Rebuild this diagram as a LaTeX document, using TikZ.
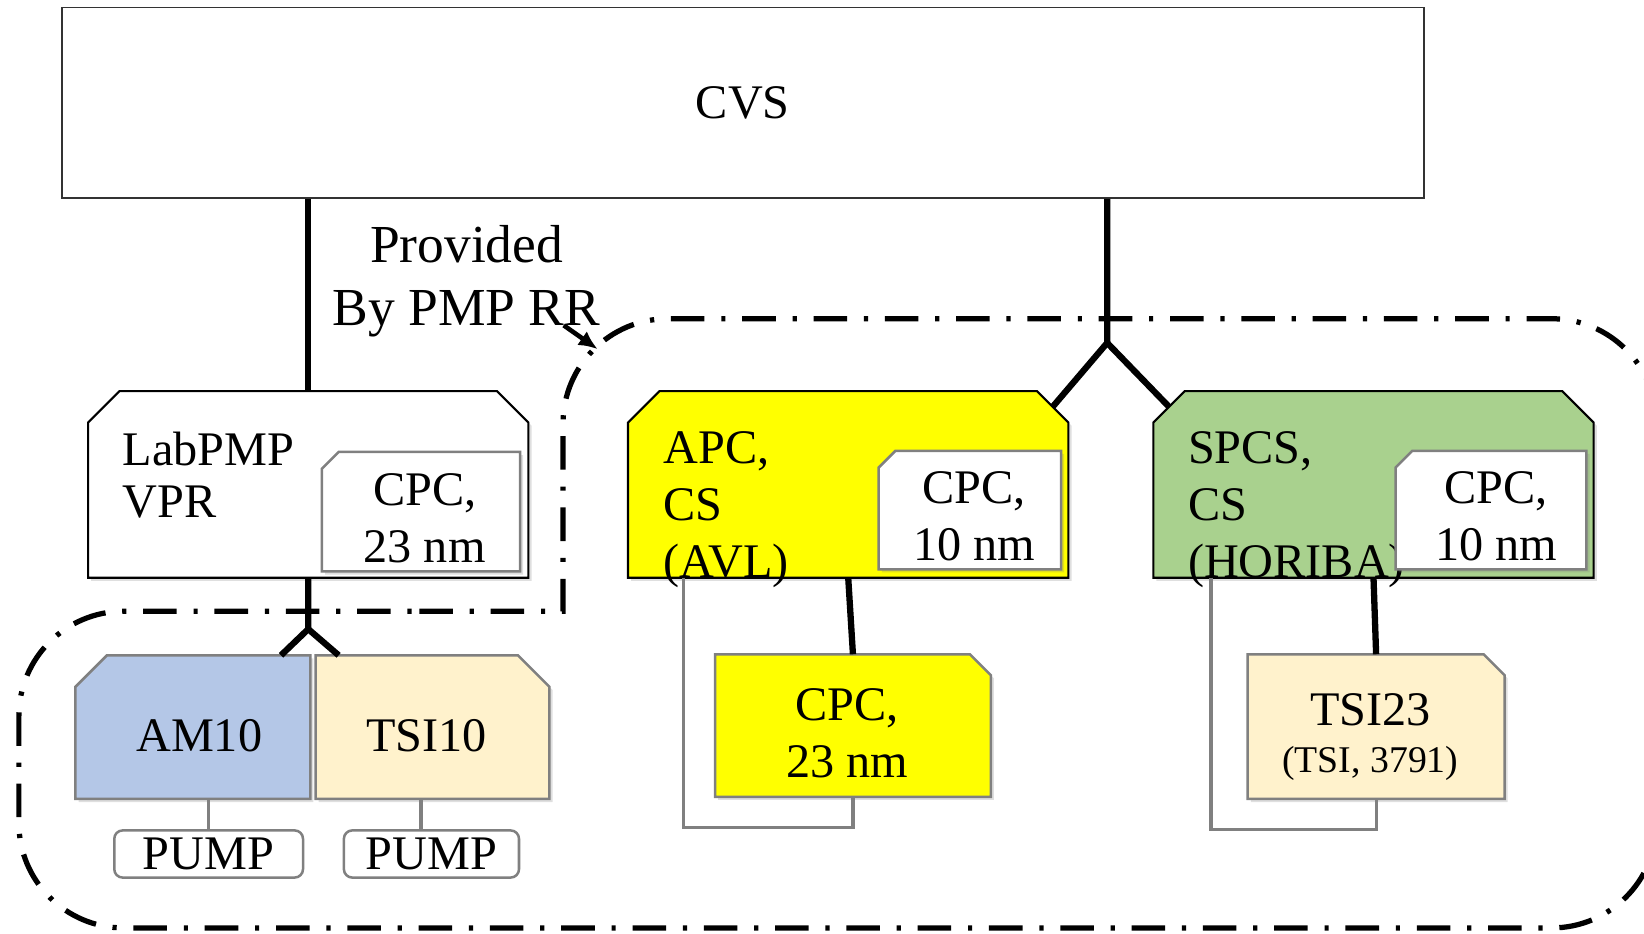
\documentclass[tikz,border=0pt]{standalone}
\usepackage{fontspec}
\setmainfont{Liberation Serif}
\usetikzlibrary{arrows,arrows.meta,shadows}

\definecolor{apcyellow}{HTML}{FFFF00}
\definecolor{spcsgreen}{HTML}{A9D18E}
\definecolor{amblue}{HTML}{B4C7E7}
\definecolor{tsicream}{HTML}{FFF2CC}
\definecolor{edgegray}{HTML}{808080}

\begin{document}
\begin{tikzpicture}[x=1pt,y=-1pt,
    font=\fontsize{23}{27}\selectfont,
    shade/.style={drop shadow={opacity=0.25,shadow xshift=1.5pt,shadow yshift=-1.5pt}},
    frame/.style={rectangle,outer sep=0pt,inner sep=0pt},
    mainbox/.style={frame,minimum width=210pt,minimum height=89pt},
    mainline/.style={draw=black,line width=1pt,shade},
    subline/.style={draw=edgegray,line width=1.2pt,shade},
    txt/.style={align=center,inner sep=0pt},
    link/.style={line width=3pt},
    grayline/.style={draw=edgegray,line width=1.5pt},
    dashdot/.style={line width=2.5pt,dash pattern=on 16pt off 8pt on 2pt off 8pt}]
    \clip (0,0) rectangle (784,445);

    \node[draw=black!80,line width=0.7pt,minimum width=649.5pt,minimum height=91pt] (cvs) at (354.25,49) {CVS};

    \node[align=center,font=\fontsize{25.5}{30}\selectfont] (prov) at (222.5,134) {Provided\\By PMP RR};

    \node[mainbox] (lab) at (147,231) {};
    \node[mainbox] (apc) at (404.5,231) {};
    \node[mainbox] (spcs) at (655,231) {};
    \node[frame,minimum width=94.5pt,minimum height=57pt] (labcpc) at (200.75,244) {};
    \node[frame,minimum width=87pt,minimum height=56.5pt] (apccpc) at (462.5,243.25) {};
    \node[frame,minimum width=91pt,minimum height=56.5pt] (spcscpc) at (711,243.25) {};
    \node[frame,minimum width=112pt,minimum height=68.5pt] (am) at (92,346.75) {};
    \node[frame,minimum width=111.5pt,minimum height=68.5pt] (tsi10) at (206.25,346.75) {};
    \node[frame,minimum width=131.5pt,minimum height=68pt] (apcbot) at (406.75,346) {};
    \node[frame,minimum width=122.5pt,minimum height=69pt] (tsi23) at (656.25,346.5) {};

    \foreach \b/\c in {lab/white,apc/apcyellow,spcs/spcsgreen}{%
        \filldraw[mainline,fill=\c] (\b.south west) -- ([yshift=-15pt]\b.north west)
            -- ([xshift=15pt]\b.north west) -- ([xshift=-15pt]\b.north east)
            -- ([yshift=-15pt]\b.north east) -- (\b.south east) -- cycle;
    }

    \node[anchor=west,align=left,font=\fontsize{23}{25}\selectfont] (labtxt) at (55,226.5) {LabPMP\\VPR};
    \node[anchor=west,align=left] (apctxt) at (313,243) {APC,\\CS\\(AVL)};
    \node[anchor=west,align=left] (spcstxt) at (563,243) {SPCS,\\CS\\(HORIBA)};

    \foreach \b/\c/\s in {labcpc/white/8pt,apccpc/white/8pt,spcscpc/white/8pt,am/amblue/15pt}{%
        \filldraw[subline,fill=\c] (\b.south west) -- ([yshift=-\s]\b.north west)
            -- ([xshift=\s]\b.north west) -- (\b.north east) -- (\b.south east) -- cycle;
    }
    \foreach \b/\c/\s in {tsi10/tsicream/15pt,apcbot/apcyellow/10pt,tsi23/tsicream/10pt}{%
        \filldraw[subline,fill=\c] (\b.south west) -- (\b.north west)
            -- ([xshift=-\s]\b.north east) -- ([yshift=-\s]\b.north east) -- (\b.south east) -- cycle;
    }

    \node[txt] (labcpctxt) at (202.5,247.25) {CPC,\\23 nm};
    \node[txt] (apccpctxt) at (464.5,246.25) {CPC,\\10 nm};
    \node[txt] (spcscpctxt) at (713.5,246.25) {CPC,\\10 nm};
    \node[txt] (amtxt) at (95,351) {AM10};
    \node[txt] (tsi10txt) at (203.5,351) {TSI10};
    \node[txt] (apcbottxt) at (404,349.75) {CPC,\\23 nm};
    \node[txt] (tsi23txt) at (653.5,351.5) {TSI23\\[-4.5pt]{\fontsize{18}{22}\selectfont(TSI, 3791)}};

    \foreach \n/\x/\w in {am/99.5/90pt,tsi10/205.75/83.5pt}{%
        \node[draw=edgegray,line width=1.2pt,rounded corners=4pt,inner sep=0pt,
            minimum width=\w,minimum height=22.5pt] (pump\n) at (\x,407.25) {PUMP};
    }

    \coordinate (labfork) at (147,300);
    \coordinate (cvsfork) at (528,163.5);
    \coordinate (provtip) at (285,166.5);

    \draw[link] (cvs.south -| lab.north) -- (lab.north);
    \draw[link] (lab.south) -- (labfork) -- ([xshift=-14pt]am.north east);
    \draw[link] (labfork) -- ([xshift=11pt]tsi10.north west);
    \draw[link] (cvs.south -| cvsfork) -- (cvsfork) -- ([xshift=-7.5pt,yshift=-7.5pt]apc.north east);
    \draw[link] (cvsfork) -- ([xshift=7.5pt,yshift=-7.5pt]spcs.north west);
    \draw[link] (apc.south) -- (apcbot.north);
    \draw[link] (spcs.south) -- (tsi23.north);

    \draw[grayline] (pumpam.north |- am.south) -- (pumpam.north);
    \draw[grayline] ([xshift=-5pt]pumptsi10.north |- tsi10.south) -- ([xshift=-5pt]pumptsi10.north);
    \draw[grayline] ([xshift=26.5pt]apc.south west) |- ([yshift=-14.5pt]apcbot.south) -- (apcbot.south);
    \draw[grayline] ([xshift=27.5pt]spcs.south west) |- ([yshift=-14.5pt]tsi23.south) -- (tsi23.south);

    \draw[line width=2.2pt,-{Latex[length=9pt,width=8pt]}] ([xshift=-21pt,yshift=9pt]prov.south east) -- (provtip);

    \draw[dashdot] (150,291.5) -- (268.5,291.5) -- (268.5,220) [rounded corners=50pt] -- (268.5,152)
        -- (790,152) -- (790,442.5) -- (9,442.5) -- (9,291.5) -- cycle;
\end{tikzpicture}
\end{document}
